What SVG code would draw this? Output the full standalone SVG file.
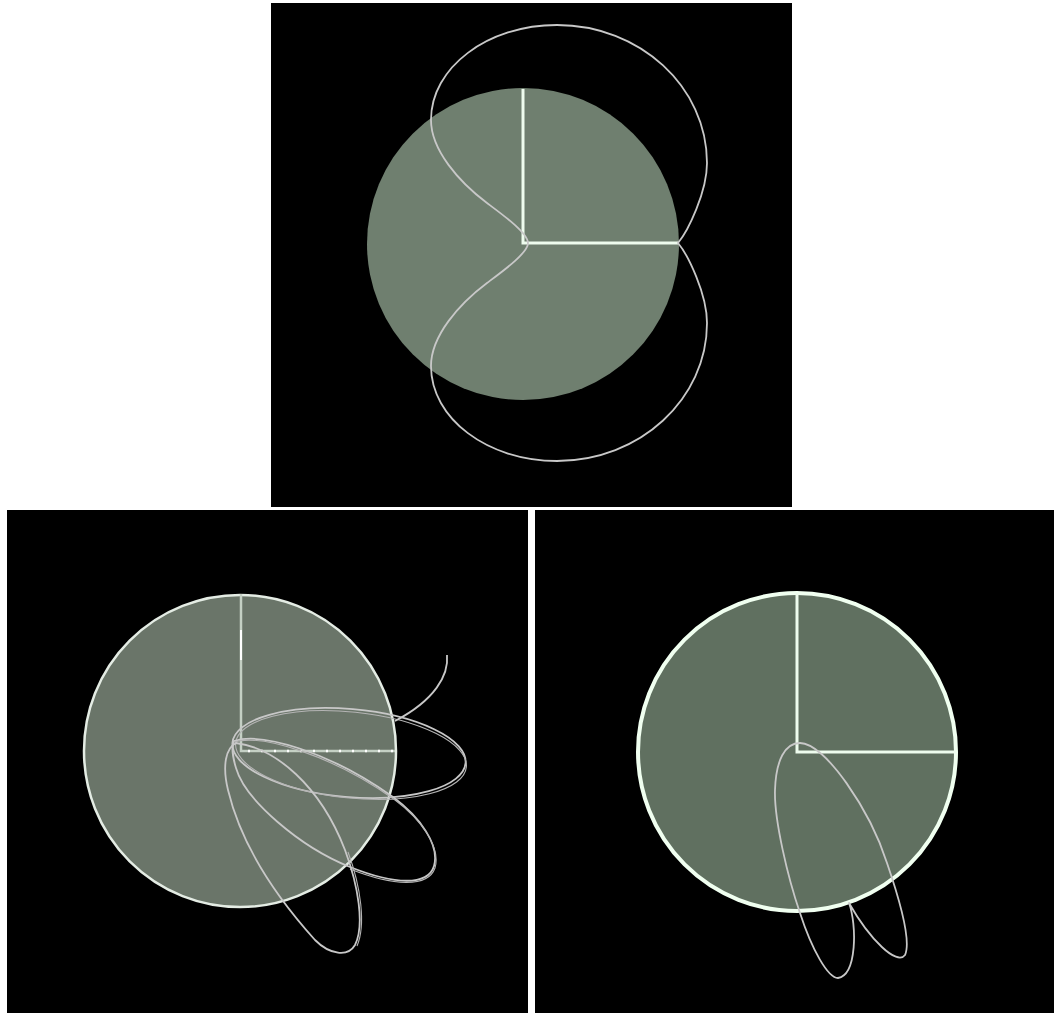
<svg xmlns="http://www.w3.org/2000/svg" width="1054" height="1015" viewBox="0 0 1054 1015">
<style>
.panel{fill:#000}
.trace{fill:none;stroke:#c8c8c8;stroke-width:1.8;stroke-linejoin:round}
.trace2{fill:none;stroke:#b4b4b4;stroke-width:1.1}
.arm{stroke:#eefcee;stroke-width:3;fill:none}
</style>
<rect width="1054" height="1015" fill="#fff"/>
<g id="panel-top">
<rect class="panel" x="271" y="3" width="521" height="504"/>
<circle cx="523" cy="244" r="156" fill="#6f7f6f"/>
<path class="arm" d="M523,89 V243 H678"/>
<path class="trace" d="M528,243 C528,233 503,215 487,203 C459,182 431,150 431,120 C431,67.6 487.4,25 557,25 C639.8,25 707,86.8 707,163 C707,192 688,231 678,243 C688,255 707,294 707,323 C707,399 639.8,461 557,461 C487.4,461 431,418.4 431,366 C431,336 459,304 487,283 C503,271 528,253 528,243 Z"/>
</g>
<g id="panel-bottom-left">
<rect class="panel" x="7" y="510" width="521" height="503"/>
<circle cx="240" cy="751" r="156" fill="#6a7569" stroke="#e4ece4" stroke-width="2.5"/>
<path d="M241,594 V751 H395" stroke="#c4d0c4" stroke-width="2.5" fill="none"/>
<path d="M248,751 H395" stroke="#ffffff" stroke-width="2.5" stroke-dasharray="2 11" fill="none"/>
<path d="M241,630 V660" stroke="#ffffff" stroke-width="2" fill="none"/>
<g id="rosette">
<ellipse class="trace" cx="349" cy="753" rx="117" ry="44" transform="rotate(5 349 753)"/>
<ellipse class="trace2" cx="351" cy="755" rx="116" ry="43" transform="rotate(6 351 755)"/>
<path class="trace" d="M234,741 C262,732 330,752 393,797 C420,817 440,845 434,866 C428,886 395,885 350,867 C300,847 245,800 236,768 C232,755 232,745 234,741 Z"/>
<path class="trace2" d="M234,742 C262,734 332,755 395,800 C422,820 441,848 435,868 C428,888 393,886 350,869"/>
<path class="trace" d="M236,743 C275,748 320,785 345,850 C358,885 365,925 355,945 C348,957 330,955 315,940 C270,890 240,840 228,790 C222,765 226,748 236,743 Z"/>
<path class="trace2" d="M348,852 C361,887 366,925 357,946"/>
<path class="trace" d="M447,655 C449,675 435,700 395,721"/>
</g>
</g>
<g id="panel-bottom-right">
<rect class="panel" x="535" y="510" width="519" height="503"/>
<circle cx="797" cy="752" r="159" fill="#607060" stroke="#f0fff0" stroke-width="4"/>
<path class="arm" d="M797,593 V752 H956"/>
<path class="trace" d="M800,743 C825,743 870,810 887,863 C898,895 912,940 905,955 C897,966 870,940 849,903 C857,925 857,975 838,978 C828,978 812,950 800,913 C788,878 774,820 775,790 C776,760 785,743 800,743 Z"/>
</g>
</svg>
